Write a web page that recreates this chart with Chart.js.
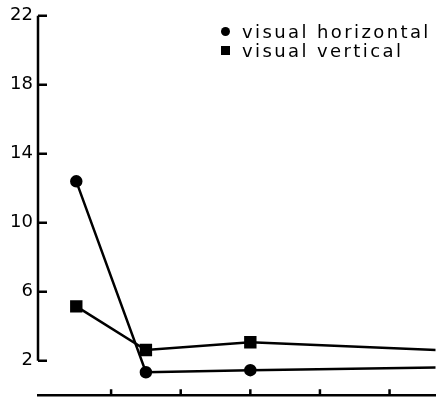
<!DOCTYPE html>
<html>
<head>
<meta charset="utf-8">
<script src="https://cdn.jsdelivr.net/npm/chart.js@4"></script>
<style>
  html, body { margin: 0; padding: 0; background: #fff; }
  .wrap { position: relative; width: 445px; height: 411px; }
  .legend { position: absolute; left: 219px; top: 22px; font-family: "DejaVu Sans", sans-serif; font-size: 18px; letter-spacing: 2.4px; color: #000; }
  .legend__row { display: flex; align-items: center; height: 19px; }
  .legend__mark { width: 9px; height: 9px; background: #000; margin-right: 12px; margin-left: 2px; }
  .legend__mark--circle { border-radius: 50%; }
</style>
</head>
<body>
<div class="wrap">
  <canvas id="chart" width="445" height="411"></canvas>
  <div class="legend" id="legend"></div>
</div>
<script>
const xValues = [0.5, 1.5, 3, 6];
const horizontalValues = [12.4, 1.33, 1.45, 1.62];
const verticalValues = [5.15, 2.62, 3.07, 2.56];
const yTickValues = [2, 6, 10, 14, 18, 22];
const xTickValues = [1, 2, 3, 4, 5];
const seriesNames = ["visual horizontal", "visual vertical"];

const toPoints = (values) => values.map((y, i) => ({ x: xValues[i], y }));

// axis line only spans the labelled range, ticks point inward
const innerAxes = {
  id: "innerAxes",
  afterDraw(chart) {
    const { ctx, chartArea, scales } = chart;
    const x = scales.x;
    const y = scales.y;
    ctx.save();
    ctx.strokeStyle = "#000";
    ctx.lineWidth = 2.5;
    ctx.beginPath();
    ctx.moveTo(chartArea.left, y.getPixelForValue(yTickValues[yTickValues.length - 1]));
    ctx.lineTo(chartArea.left, y.getPixelForValue(yTickValues[0]));
    yTickValues.forEach((v) => {
      const py = y.getPixelForValue(v);
      ctx.moveTo(chartArea.left, py);
      ctx.lineTo(chartArea.left + 9, py);
    });
    xTickValues.forEach((v) => {
      const px = x.getPixelForValue(v);
      ctx.moveTo(px, chartArea.bottom);
      ctx.lineTo(px, chartArea.bottom - 6);
    });
    ctx.stroke();
    ctx.restore();
  },
};

new Chart(document.getElementById("chart"), {
  type: "line",
  data: {
    datasets: [
      {
        label: seriesNames[0],
        data: toPoints(horizontalValues),
        borderColor: "#000",
        backgroundColor: "#000",
        borderWidth: 2.5,
        pointStyle: "circle",
        pointRadius: 5,
        tension: 0,
      },
      {
        label: seriesNames[1],
        data: toPoints(verticalValues),
        borderColor: "#000",
        backgroundColor: "#000",
        borderWidth: 2.5,
        pointStyle: "rect",
        pointRadius: 7,
        tension: 0,
      },
    ],
  },
  options: {
    responsive: false,
    animation: false,
    layout: { padding: { top: 15, right: 0, bottom: 0, left: 0 } },
    scales: {
      x: {
        type: "linear",
        min: -0.05,
        max: 5.66,
        afterFit: (scale) => { scale.height = 4; },
        ticks: { display: false },
        grid: { display: false },
        border: { display: true, color: "#000", width: 2.5 },
      },
      y: {
        type: "linear",
        min: 0,
        max: 22,
        afterFit: (scale) => { scale.width = 38; },
        afterBuildTicks: (scale) => { scale.ticks = yTickValues.map((value) => ({ value })); },
        ticks: {
          color: "#000",
          padding: 5,
          font: { family: "DejaVu Sans", size: 18 },
        },
        grid: { display: false, drawTicks: false },
        border: { display: false },
      },
    },
    plugins: {
      legend: { display: false },
      tooltip: { enabled: false },
    },
  },
  plugins: [innerAxes],
});

document.getElementById("legend").innerHTML = seriesNames
  .map(
    (name, i) => `
      <div class="legend__row">
        <span class="legend__mark${i === 0 ? " legend__mark--circle" : ""}"></span>
        <span>${name}</span>
      </div>
    `
  )
  .join("");
</script>
</body>
</html>
